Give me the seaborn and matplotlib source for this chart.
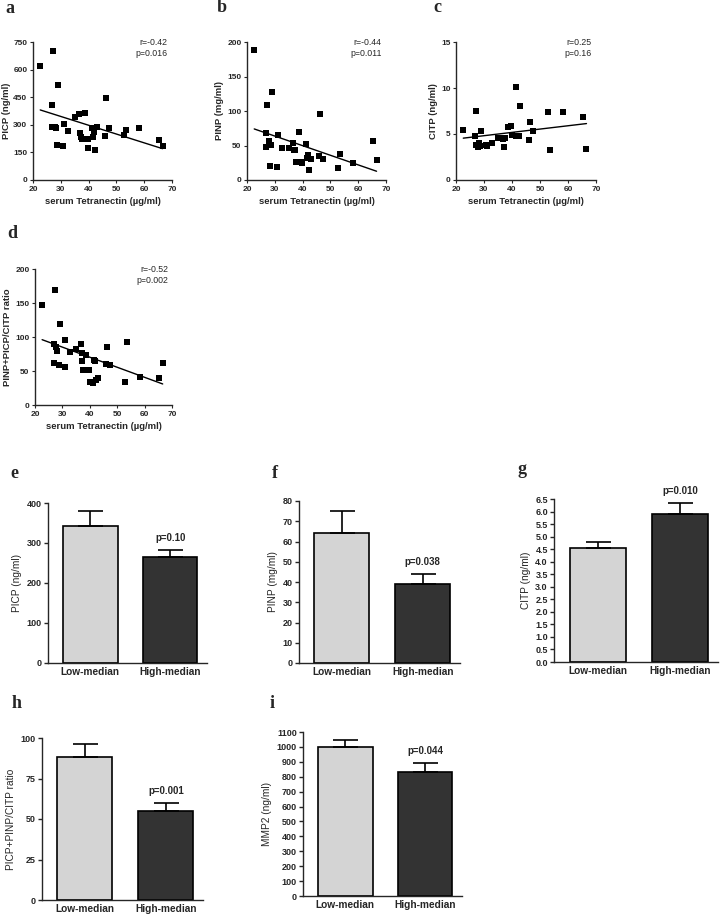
import numpy as np
import pandas as pd
import matplotlib
matplotlib.use('Agg')
import matplotlib.pyplot as plt
import seaborn as sns

# serum tetranectin (x) shared by the four scatter panels
tetranectin = [22.6, 26.8, 27.0, 27.3, 27.8, 28.2, 28.6, 29.1, 30.8, 31.1, 32.7,
               35.0, 36.7, 37.0, 37.3, 37.6, 38.6, 39.7, 39.9, 41.3, 41.6, 42.0,
               42.4, 42.9, 46.0, 46.3, 47.4, 52.7, 53.5, 58.3, 65.4, 66.6]
picp = [617, 405, 290, 701, 290, 281, 191, 517, 187, 307, 265,
        341, 358, 254, 236, 221, 363, 225, 173, 285, 236, 261,
        163, 287, 238, 443, 283, 243, 274, 280, 216, 185]
pinp = [189, 68, 48, 109, 56, 21, 51, 127, 19, 65, 47,
        46, 53, 43, 43, 26, 69, 24, 26, 52, 32, 36,
        14, 31, 35, 95, 31, 17, 37, 25, 56, 29]
citp = [5.4, 4.8, 3.8, 7.5, 3.6, 4.0, 3.7, 5.3, 3.8, 3.7, 4.0,
        4.6, 4.5, 4.6, 3.6, 4.6, 5.8, 5.9, 4.9, 10.1, 4.8, 4.8,
        4.8, 8.0, 4.4, 6.3, 5.3, 7.4, 3.3, 7.4, 6.8, 3.4]
ratio = [147, 90, 62, 169, 85, 80, 59, 119, 56, 96, 78,
         83, 89, 65, 76, 52, 74, 51, 34, 32, 66, 65,
         37, 39, 61, 85, 59, 34, 93, 41, 40, 62]

# bar panels: group means and upper SEM
groups = ['Low-median', 'High-median']
picp_mean, picp_err = [343, 266], [37, 17]
pinp_mean, pinp_err = [64, 39], [11, 5]
citp_mean, citp_err = [4.55, 5.9], [0.25, 0.45]
ratio_mean, ratio_err = [88, 55], [8, 5]
mmp2_mean, mmp2_err = [1000, 835], [45, 60]

W, H = 722, 917
sns.set_style('ticks')
plt.rcParams['font.family'] = ['Liberation Sans', 'DejaVu Sans']
plt.rcParams['axes.linewidth'] = 1.0

fig = plt.figure(figsize=(W / 100, H / 100), dpi=100)


def box(l, t, r, b):
    return [l / W, 1 - b / H, (r - l) / W, (b - t) / H]


def panel_label(x, y, s):
    fig.text(x / W, 1 - y / H, s, fontsize=13, fontweight='bold',
             family='Liberation Serif', va='baseline')


def scatter_panel(rect, y, ylabel, yticks, stats):
    ax = fig.add_axes(box(*rect))
    df = pd.DataFrame({'x': tetranectin, 'y': y})
    sns.regplot(data=df, x='x', y='y', ax=ax, ci=None, marker='s',
                scatter_kws={'s': 18, 'color': 'black', 'alpha': 1, 'linewidths': 0},
                line_kws={'color': 'black', 'lw': 1})
    ax.set_xlim(20, 70)
    ax.set_ylim(yticks[0], yticks[-1])
    ax.set_xticks([20, 30, 40, 50, 60, 70])
    ax.set_yticks(yticks)
    ax.set_xlabel('serum Tetranectin (\u00b5g/ml)', fontsize=6.8, fontweight='bold', labelpad=3)
    ax.set_ylabel(ylabel, fontsize=6.8, fontweight='bold', labelpad=2)
    ax.tick_params(labelsize=6, length=2.5, width=0.8, pad=1.5)
    for t in ax.get_xticklabels() + ax.get_yticklabels():
        t.set_fontweight('bold')
    ax.text(0.97, 1.03, stats, transform=ax.transAxes, ha='right', va='top',
            fontsize=6.3, linespacing=1.25)
    sns.despine(ax=ax)
    return ax


def bar_panel(rect, means, errs, ylabel, yticks, ptext, fmt=None):
    ax = fig.add_axes(box(*rect))
    sns.barplot(x=groups, y=means, hue=groups, palette=['#d4d4d4', '#333333'],
                legend=False, edgecolor='black', linewidth=1.2, width=0.68,
                errorbar=None, ax=ax)
    ax.errorbar([0, 1], means, yerr=[[0, 0], errs], fmt='none', ecolor='black',
                elinewidth=1.2, capsize=9, capthick=1.2)
    ax.set_xlim(-0.53, 1.46)
    ax.set_ylim(yticks[0], yticks[-1])
    ax.set_yticks(yticks)
    if fmt:
        ax.set_yticklabels([fmt.format(v) for v in yticks])
    ax.set_ylabel(ylabel, fontsize=7.3, labelpad=3)
    ax.tick_params(axis='y', labelsize=6.5, length=3, width=1, pad=1.5)
    ax.tick_params(axis='x', labelsize=7.3, length=0, pad=3)
    for t in ax.get_xticklabels() + ax.get_yticklabels():
        t.set_fontweight('bold')
    ax.annotate(ptext, (1, means[1] + errs[1]), xytext=(0, 5),
                textcoords='offset points', ha='center', va='bottom',
                fontsize=7, fontweight='bold')
    sns.despine(ax=ax)
    return ax


scatter_panel((33, 42, 172, 180), picp, 'PICP (ng/ml)', [0, 150, 300, 450, 600, 750],
              'r=-0.42\np=0.016')
scatter_panel((247, 42, 386, 180), pinp, 'PINP (mg/ml)', [0, 50, 100, 150, 200],
              'r=-0.44\np=0.011')
scatter_panel((456, 42, 596, 180), citp, 'CITP (ng/ml)', [0, 5, 10, 15],
              'r=0.25\np=0.16')
scatter_panel((35, 269, 172, 405), ratio, 'PINP+PICP/CITP ratio', [0, 50, 100, 150, 200],
              'r=-0.52\np=0.002')

bar_panel((48, 503, 207, 663), picp_mean, picp_err, 'PICP (ng/ml)',
          [0, 100, 200, 300, 400], 'p=0.10')
bar_panel((299, 501, 460, 663), pinp_mean, pinp_err, 'PINP (mg/ml)',
          list(range(0, 81, 10)), 'p=0.038')
bar_panel((554, 499, 718, 662), citp_mean, citp_err, 'CITP (ng/ml)',
          [i * 0.5 for i in range(14)], 'p=0.010', fmt='{:.1f}')
bar_panel((42, 738, 203, 900), ratio_mean, ratio_err, 'PICP+PINP/CITP ratio',
          [0, 25, 50, 75, 100], 'p=0.001')
bar_panel((303, 732, 462, 896), mmp2_mean, mmp2_err, 'MMP2 (ng/ml)',
          list(range(0, 1101, 100)), 'p=0.044')

panel_label(5, 13, 'a')
panel_label(217, 12, 'b')
panel_label(433, 12, 'c')
panel_label(7, 238, 'd')
panel_label(10, 478, 'e')
panel_label(272, 478, 'f')
panel_label(517, 474, 'g')
panel_label(12, 708, 'h')
panel_label(270, 708, 'i')

fig.savefig('out.png', dpi=100)
